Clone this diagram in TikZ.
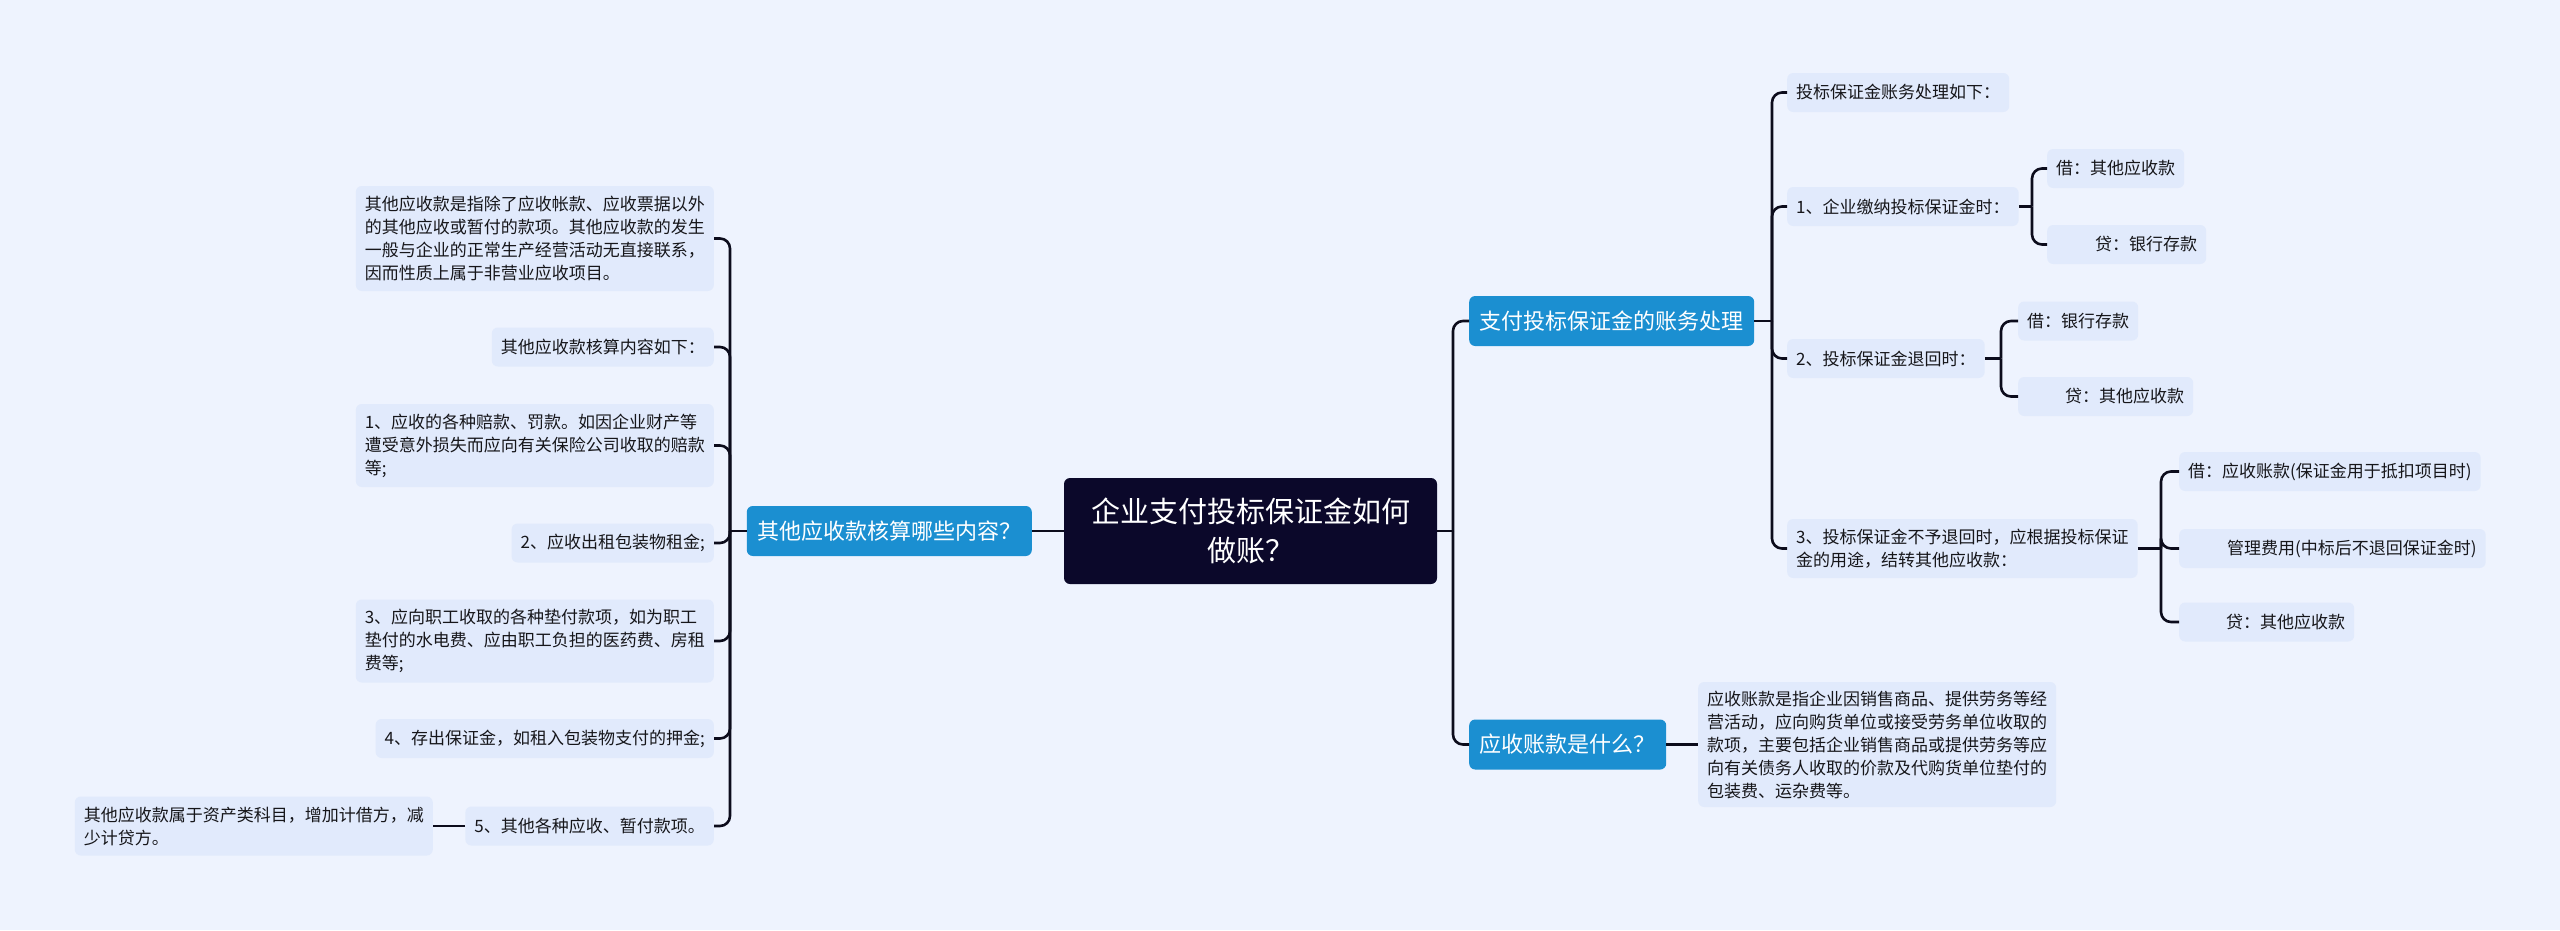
\documentclass[tikz,border=0pt]{standalone}
\usepackage{fontspec}
\setmainfont{Noto Sans CJK SC}
\usetikzlibrary{calc}
\definecolor{bgc}{RGB}{238,243,254}
\definecolor{leafc}{RGB}{225,234,252}
\definecolor{bluec}{RGB}{27,143,209}
\definecolor{darkc}{RGB}{11,8,42}
\definecolor{linec}{RGB}{12,12,28}
\definecolor{txtc}{RGB}{22,22,26}
\begin{document}
\begin{tikzpicture}[x=1pt,y=-1pt,
  leaf/.style={fill=leafc, rounded corners=6pt, inner xsep=9pt, inner ysep=0pt, text=txtc, align=left, font=\fontsize{17}{23}\selectfont, minimum height=39pt},
  leafr/.style={leaf, anchor=east},
  leafl/.style={leaf, anchor=west},
  mainbox/.style={fill=bluec, rounded corners=6pt, text=white, inner xsep=10.5pt, inner ysep=0pt, minimum height=50pt, font=\fontsize{22}{28}\selectfont},
  rootbox/.style={fill=darkc, rounded corners=6pt, text=white, align=center, minimum width=373pt, minimum height=106pt, font=\fontsize{29}{39}\selectfont},
  conn/.style={draw=linec, line width=2.6pt, rounded corners=10pt}]
\path[use as bounding box, fill=bgc] (0,0) rectangle (2560,930);

% root and main topics
\node[rootbox] (root) at (1250.5,531) {企业支付投标保证金如何\\做账？};
\node[mainbox, anchor=west] (m1) at (1469,321) {支付投标保证金的账务处理};
\node[mainbox, anchor=west] (m2) at (1469,744.5) {应收账款是什么？};
\node[mainbox, anchor=east] (ml) at (1032,531) {其他应收款核算哪些内容？};

% right subtree
\node[leafl] (r1) at (1787,92.5) {投标保证金账务处理如下：};
\node[leafl] (r2) at (1787,206.5) {1、企业缴纳投标保证金时：};
\node[leafl] (r2a) at (2047,168.5) {借：其他应收款};
\node[leafl] (r2b) at (2047,244.5) {\hspace*{39pt}贷：银行存款};
\node[leafl] (r3) at (1787,358.5) {2、投标保证金退回时：};
\node[leafl] (r3a) at (2018,321) {借：银行存款};
\node[leafl] (r3b) at (2018,396.5) {\hspace*{38pt}贷：其他应收款};
\node[leafl, minimum height=59pt] (r4) at (1787,548.5) {3、投标保证金不予退回时，应根据投标保证\\金的用途，结转其他应收款：};
\node[leafl] (r4a) at (2179,471.5) {借：应收账款(保证金用于抵扣项目时)};
\node[leafl] (r4b) at (2179,548.5) {\hspace*{39pt}管理费用(中标后不退回保证金时)};
\node[leafl] (r4c) at (2179,622) {\hspace*{38pt}贷：其他应收款};
\node[leafl, minimum height=125pt] (r5) at (1698,744.5) {应收账款是指企业因销售商品、提供劳务等经\\营活动，应向购货单位或接受劳务单位收取的\\款项，主要包括企业销售商品或提供劳务等应\\向有关债务人收取的价款及代购货单位垫付的\\包装费、运杂费等。};

% left subtree
\node[leafr, minimum height=105pt] (l1) at (714,238.5) {其他应收款是指除了应收帐款、应收票据以外\\的其他应收或暂付的款项。其他应收款的发生\\一般与企业的正常生产经营活动无直接联系，\\因而性质上属于非营业应收项目。};
\node[leafr] (l2) at (714,347) {其他应收款核算内容如下：};
\node[leafr, minimum height=83pt] (l3) at (714,445.5) {1、应收的各种赔款、罚款。如因企业财产等\\遭受意外损失而应向有关保险公司收取的赔款\\等;};
\node[leafr] (l4) at (714,543) {2、应收出租包装物租金;};
\node[leafr, minimum height=83pt] (l5) at (714,641) {3、应向职工收取的各种垫付款项，如为职工\\垫付的水电费、应由职工负担的医药费、房租\\费等;};
\node[leafr] (l6) at (714,738.5) {4、存出保证金，如租入包装物支付的押金;};
\node[leafr] (l7) at (714,826) {5、其他各种应收、暂付款项。};
\node[leafr, minimum height=59pt] (l8) at (433,826) {其他应收款属于资产类科目，增加计借方，减\\少计贷方。};

% junctions
\coordinate (jroot) at (1453,531);
\coordinate (jm1) at (1772,321);
\coordinate (jr2) at (2032,206.5);
\coordinate (jr3) at (2001,358.5);
\coordinate (jr4) at (2161,548.5);
\coordinate (jl) at (730,531);

% connectors
\draw[conn] (root.east) -- (jroot);
\draw[conn] (jroot) |- (m1.west);
\draw[conn] (jroot) |- (m2.west);
\draw[conn] (root.west) -- (ml.east);

\draw[conn] (m1.east) -- (jm1);
\foreach \c in {r1,r2,r3,r4} \draw[conn] (jm1) |- (\c.west);
\draw[conn] (r2.east) -- (jr2);
\foreach \c in {r2a,r2b} \draw[conn] (jr2) |- (\c.west);
\draw[conn] (r3.east) -- (jr3);
\foreach \c in {r3a,r3b} \draw[conn] (jr3) |- (\c.west);
\draw[conn] (r4.east) -- (jr4);
\foreach \c in {r4a,r4b,r4c} \draw[conn] (jr4) |- (\c.west);
\draw[conn] (m2.east) -- (r5.west);

\draw[conn] (ml.west) -- (jl);
\foreach \c in {l1,l2,l3,l4,l5,l6,l7} \draw[conn] (jl) |- (\c.east);
\draw[conn] (l7.west) -- (l8.east);
\end{tikzpicture}
\end{document}
